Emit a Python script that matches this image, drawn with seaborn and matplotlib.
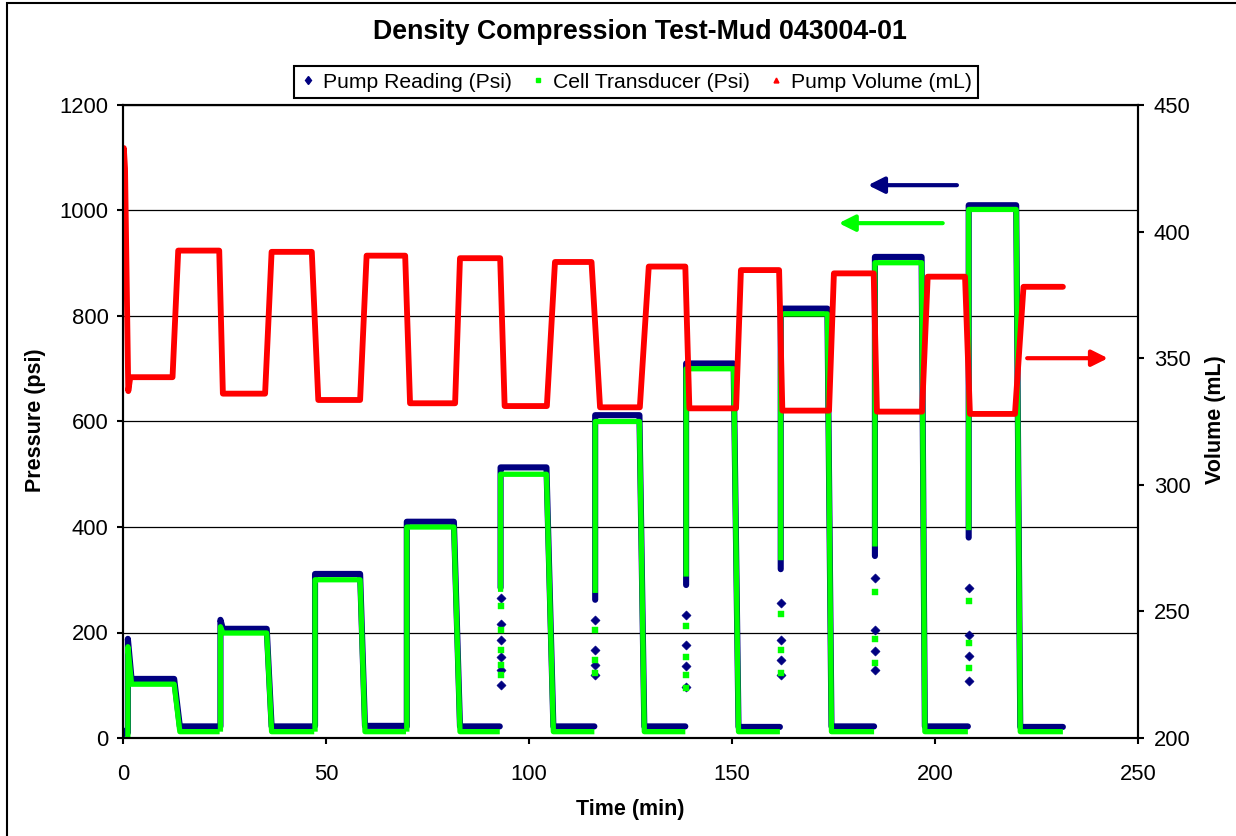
import pandas as pd
import seaborn as sns
import matplotlib.pyplot as plt
from matplotlib.lines import Line2D
from matplotlib.patches import Rectangle

# pressure cycles (min): rise, plateau start/end, low start/end
rise_t = [1.2, 24.0, 47.3, 69.9, 93.0, 116.3, 138.7, 162.0, 185.2, 208.3]
high_from = [2.1, 24.6, 47.6, 70.2, 93.3, 116.6, 139.1, 162.3, 185.5, 208.6]
high_to = [12.6, 35.4, 58.4, 81.5, 104.3, 127.2, 150.4, 173.5, 196.7, 220.0]
low_from = [14.0, 36.6, 59.6, 83.0, 106.0, 128.4, 151.6, 174.5, 197.5, 221.0]
low_to = [23.8, 47.1, 69.7, 92.8, 116.1, 138.5, 161.8, 185.0, 208.1, 231.5]

pump_high = [112, 207, 311, 410, 513, 612, 710, 814, 912, 1010]
pump_peak = [188, 224, 311, 410, 513, 612, 710, 814, 912, 1010]
pump_low = [22, 22, 23, 22, 22, 22, 21, 22, 22, 21]
pump_base = [10, 22, 23, 22, 285, 262, 290, 320, 345, 380]

cell_high = [102, 199, 300, 400, 500, 600, 700, 804, 901, 1002]
cell_peak = [173, 211, 300, 400, 500, 600, 700, 804, 901, 1002]
cell_low = [12, 12, 12, 12, 12, 12, 12, 12, 12, 12]
cell_base = [0, 12, 12, 12, 277, 275, 306, 337, 363, 394]

# scattered readings during the fast pressure rises
pump_dot_t = [0.2, 93.0, 93.0, 93.0, 93.0, 93.0, 93.0, 116.3, 116.3, 116.3, 116.3,
              138.7, 138.7, 138.7, 138.7, 162.0, 162.0, 162.0, 162.0,
              185.2, 185.2, 185.2, 185.2, 208.3, 208.3, 208.3, 208.3]
pump_dot_p = [12, 265, 217, 186, 154, 129, 100, 224, 167, 138, 119,
              234, 176, 136, 97, 255, 186, 147, 120,
              303, 205, 165, 128, 284, 195, 155, 109]
cell_dot_t = [93.0, 93.0, 93.0, 93.0, 93.0, 116.3, 116.3, 116.3,
              138.7, 138.7, 138.7, 138.7, 162.0, 162.0, 162.0,
              185.2, 185.2, 185.2, 208.3, 208.3, 208.3]
cell_dot_p = [250, 205, 167, 138, 119, 205, 148, 123,
              212, 154, 119, 95, 235, 167, 123,
              277, 187, 142, 260, 180, 132]

# pump volume (mL)
vol_lead_t = [0.0, 0.2, 0.5, 1.3]
vol_lead_v = [428, 433, 425, 337]
vol_from = [1.8, 13.6, 24.6, 36.6, 48.1, 60.0, 70.7, 83.0, 94.0, 106.4,
            117.5, 129.5, 139.5, 152.2, 162.4, 175.1, 185.7, 198.2, 208.6, 221.8]
vol_to = [12.2, 23.7, 35.0, 46.5, 58.4, 69.5, 81.8, 92.9, 104.4, 115.4,
          127.3, 138.5, 151.0, 161.6, 173.9, 184.9, 196.8, 207.4, 219.7, 231.5]
vol_level = [342.5, 392.5, 336.0, 392.0, 333.5, 390.5, 332.2, 389.5, 331.1, 388.0,
             330.6, 386.2, 330.2, 384.8, 329.3, 383.5, 328.9, 382.2, 328.0, 378.2]


def pressure_frame(base, peak, high, low):
    rows = []
    for k in range(len(rise_t)):
        pts = [(rise_t[k], base[k]), (rise_t[k], peak[k]), (high_from[k], high[k]),
               (high_to[k], high[k]), (low_from[k], low[k]), (low_to[k], low[k])]
        rows += [(t, p, k) for t, p in pts]
    return pd.DataFrame(rows, columns=["t", "p", "seg"])


pump = pressure_frame(pump_base, pump_peak, pump_high, pump_low)
cell = pressure_frame(cell_base, cell_peak, cell_high, cell_low)

vt = list(vol_lead_t)
vv = list(vol_lead_v)
for a, b, v in zip(vol_from, vol_to, vol_level):
    vt += [a, b]
    vv += [v, v]
vol = pd.DataFrame({"t": vt, "v": vv})

NAVY, GREEN, RED = "#000080", "#00FF00", "#FF0000"

sns.set_theme(style="white")
plt.rcParams["font.family"] = ["Liberation Sans", "DejaVu Sans"]
plt.rcParams["text.color"] = "black"

fig = plt.figure(figsize=(12.36, 8.36), dpi=100)
ax = fig.add_axes([123 / 1236, 98 / 836, 1015 / 1236, 633 / 836])
ax2 = ax.twinx()

sns.lineplot(data=pump, x="t", y="p", units="seg", estimator=None, sort=False,
             color=NAVY, lw=4.4, solid_capstyle="round", ax=ax)
sns.scatterplot(x=pump_dot_t, y=pump_dot_p, marker="D", s=22, color=NAVY,
                edgecolor=NAVY, ax=ax)
sns.lineplot(data=cell, x="t", y="p", units="seg", estimator=None, sort=False,
             color=GREEN, lw=3.8, solid_capstyle="butt", ax=ax)
sns.scatterplot(x=cell_dot_t, y=cell_dot_p, marker="s", s=14, color=GREEN,
                edgecolor=GREEN, ax=ax)
sns.lineplot(data=vol, x="t", y="v", estimator=None, sort=False,
             color=RED, lw=4.2, solid_capstyle="round", ax=ax2)

ax.set_xlim(0, 250)
ax.set_ylim(0, 1200)
ax2.set_ylim(200, 450)
ax.set_xticks(range(0, 251, 50))
ax.set_yticks(range(0, 1201, 200))
ax2.set_yticks(range(200, 451, 50))
ax.set_xlabel("")
ax.set_ylabel("")
ax2.set_ylabel("")

ax.grid(axis="y", color="black", lw=0.9)
ax.set_axisbelow(True)
for a in (ax, ax2):
    for s in a.spines.values():
        s.set_color("black")
        s.set_linewidth(1.5)
ax.tick_params(axis="both", which="major", direction="out", length=4.5, width=1.5,
               color="black", labelsize=15.8, labelcolor="black")
ax.tick_params(axis="y", left=True, pad=6)
ax.tick_params(axis="x", bottom=True, pad=14)
ax2.tick_params(axis="y", right=True, direction="out", length=4.5, width=1.5,
                color="black", labelsize=15.8, labelcolor="black", pad=7)

# direction arrows
ax.annotate("", xy=(183.5, 1048), xytext=(205.4, 1048),
            arrowprops=dict(arrowstyle="-|>,head_length=0.8,head_width=0.4",
                            color=NAVY, lw=3, shrinkA=0, shrinkB=0))
ax.annotate("", xy=(176.3, 976), xytext=(201.9, 976),
            arrowprops=dict(arrowstyle="-|>,head_length=0.8,head_width=0.4",
                            color=GREEN, lw=3, shrinkA=0, shrinkB=0))
ax2.annotate("", xy=(242.6, 350), xytext=(222.7, 350),
             arrowprops=dict(arrowstyle="-|>,head_length=0.8,head_width=0.4",
                             color=RED, lw=3, shrinkA=0, shrinkB=0))

fig.text(640 / 1236, 1 - 32 / 836, "Density Compression Test-Mud 043004-01",
         ha="center", va="center", fontsize=19.3, fontweight="bold", color="black")
fig.text(630 / 1236, 1 - 809 / 836, "Time (min)", ha="center", va="center",
         fontsize=15.5, fontweight="bold", color="black")
fig.text(36 / 1236, 1 - 420 / 836, "Pressure (psi)", ha="center", va="center",
         rotation=90, fontsize=15.5, fontweight="bold", color="black")
fig.text(1215 / 1236, 1 - 420 / 836, "Volume (mL)", ha="center", va="center",
         rotation=90, fontsize=15.5, fontweight="bold", color="black")

handles = [
    Line2D([], [], ls="none", marker="d", ms=4.5, color=NAVY),
    Line2D([], [], ls="none", marker="s", ms=3.2, color=GREEN),
    Line2D([], [], ls="none", marker="^", ms=3.5, color=RED),
]
labels = ["Pump Reading (Psi)", "Cell Transducer (Psi)", "Pump Volume (mL)"]
leg = fig.legend(handles, labels, loc="center", bbox_to_anchor=(636 / 1236, 1 - 82 / 836),
                 ncol=3, fontsize=15.2, frameon=True, fancybox=False, framealpha=1,
                 edgecolor="black", borderpad=0.3, handlelength=0.7,
                 handletextpad=0.35, columnspacing=0.9, borderaxespad=0)
leg.get_frame().set_linewidth(1.5)
for txt in leg.get_texts():
    txt.set_color("black")

fig.patches.append(Rectangle((7 / 1236, -0.05), 1.1, 1.05 - 3 / 836,
                             transform=fig.transFigure, fill=False,
                             edgecolor="black", lw=1.5))

fig.savefig("out.png", dpi=100)
